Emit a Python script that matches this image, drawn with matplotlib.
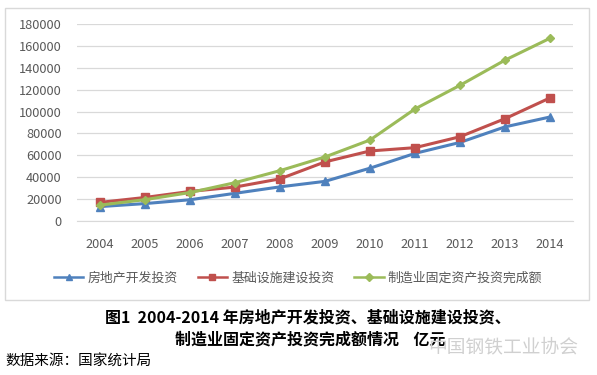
import matplotlib
matplotlib.use("Agg")
import matplotlib.pyplot as plt
from matplotlib.patches import Rectangle

plt.rcParams['font.family'] = ['Noto Sans CJK SC', 'DejaVu Sans']

years = [2004, 2005, 2006, 2007, 2008, 2009, 2010, 2011, 2012, 2013, 2014]
real_estate = [13158, 15909, 19423, 25289, 31203, 36232, 48259, 61796, 71804, 86013, 95036]
infra = [17000, 21500, 27000, 31000, 38500, 54000, 64000, 67000, 77000, 93500, 112500]
manuf = [14500, 19500, 26000, 35000, 46000, 58500, 74000, 102400, 124000, 147000, 167000]
names = ['房地产开发投资', '基础设施建设投资', '制造业固定资产投资完成额']

W, H = 597, 375
fig = plt.figure(figsize=(W / 100, H / 100), dpi=100)

# chart frame
fig.patches.append(Rectangle((5 / W, 1 - 300 / H), 584 / W, 292 / H, transform=fig.transFigure,
                             fill=False, edgecolor='#d9d9d9', linewidth=1))

ax = fig.add_axes([77 / W, 1 - 221 / H, 496 / W, 197 / H])
ax.plot(years, real_estate, color='#4f81bd', marker='^', markersize=6, linewidth=2.2, label=names[0])
ax.plot(years, infra, color='#c0504d', marker='s', markersize=6, linewidth=2.2, label=names[1])
ax.plot(years, manuf, color='#9bbb59', marker='D', markersize=4.5, linewidth=2.2, label=names[2])

ax.set_xlim(2003.49, 2014.51)
ax.set_ylim(0, 180000)
ax.set_yticks(range(0, 180001, 20000))
ax.set_xticks(years)
ax.grid(axis='y', color='#d9d9d9', linewidth=0.9)
ax.set_axisbelow(True)
for s in ax.spines.values():
    s.set_visible(False)
ax.spines['bottom'].set_visible(True)
ax.spines['bottom'].set_color('#d9d9d9')
ax.tick_params(length=0, labelsize=9.2, labelcolor='#595959')
ax.tick_params(axis='x', pad=12)
ax.tick_params(axis='y', pad=11)

leg = fig.legend(loc='center', bbox_to_anchor=(298 / W, 1 - 278 / H), ncol=3, frameon=False,
                 fontsize=9.3, handlelength=2.3, columnspacing=1.55, handletextpad=0.3,
                 markerscale=0.8)
for t in leg.get_texts():
    t.set_color('#595959')
for h in leg.legend_handles:
    h.set_linewidth(1.8)

fig.text(308 / W, 1 - 317 / H, '图1  2004-2014 年房地产开发投资、基础设施建设投资、',
         ha='center', va='center', fontsize=11.5, fontweight='bold')
fig.text(310 / W, 1 - 339 / H, '制造业固定资产投资完成额情况    亿元',
         ha='center', va='center', fontsize=11.5, fontweight='bold')
fig.text(503 / W, 1 - 347 / H, '中国钢铁工业协会', ha='center', va='center',
         fontsize=13.5, color='#d0d0d0')
fig.text(5 / W, 1 - 362 / H, '数据来源：国家统计局', ha='left', va='center', fontsize=10.5)

fig.savefig('out.png', dpi=100)
